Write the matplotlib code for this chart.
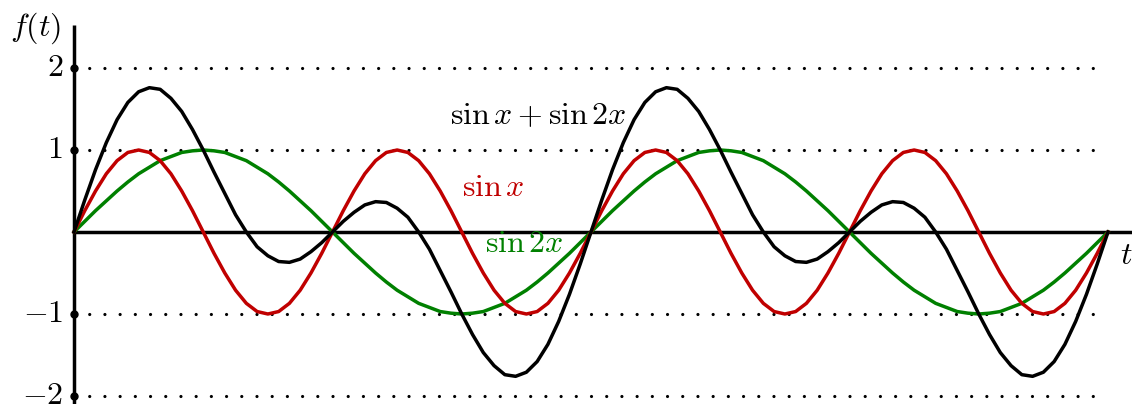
import numpy as np
import matplotlib
matplotlib.use("Agg")
import matplotlib.pyplot as plt

plt.rcParams['mathtext.fontset'] = 'cm'

# x samples: k*pi/24, k = 0..96  (0 .. 4*pi)
n_steps = 96
x_end = 4 * np.pi

red_period = [0, .26, .50, .71, .87, .97, 1.00, .97, .87, .71, .50, .26,
              0, -.26, -.50, -.71, -.87, -.97, -1.00, -.97, -.87, -.71, -.50, -.26]
green_period = [0, .13, .26, .38, .50, .61, .71, .79, .87, .92, .97, .99,
                1.00, .99, .97, .92, .87, .79, .71, .61, .50, .38, .26, .13,
                0, -.13, -.26, -.38, -.50, -.61, -.71, -.79, -.87, -.92, -.97, -.99,
                -1.00, -.99, -.97, -.92, -.87, -.79, -.71, -.61, -.50, -.38, -.26, -.13]
black_period = [0, .39, .76, 1.09, 1.37, 1.58, 1.71, 1.76, 1.74, 1.63, 1.47, 1.25,
                1.00, .73, .47, .21, 0, -.18, -.29, -.36, -.37, -.33, -.24, -.13,
                0, .13, .24, .33, .37, .36, .29, .18, 0, -.21, -.47, -.73,
                -1.00, -1.25, -1.47, -1.63, -1.74, -1.76, -1.71, -1.58, -1.37, -1.09, -.76, -.39]

red_vals = red_period * 4 + [0]
green_vals = green_period * 2 + [0]
black_vals = black_period * 2 + [0]

yticks = [2, 1, -1, -2]
ytick_labels = [r'$2$', r'$1$', r'$-1$', r'$-2$']

RED = '#c00000'
GREEN = '#008000'
FS = 23
LW = 2.5

fig = plt.figure(figsize=(11.32, 4.04), dpi=100)
ax = fig.add_axes([0, 0, 1, 1])
ax.set_axis_off()

ppu_x = 1034 / x_end
ppu_y = 82.0
ax.set_xlim(-74 / ppu_x, (1132 - 74) / ppu_x)
ax.set_ylim(-(404 - 232) / ppu_y, 232 / ppu_y)

xs = np.linspace(0, x_end, n_steps + 1)

# dotted grid lines
for yv, lab in zip(yticks, ytick_labels):
    ax.plot([0, (1100 - 74) / ppu_x], [yv, yv],
            color='black', lw=2.3, linestyle=(0, (0.01, 4.75)), dash_capstyle='round', zorder=1)
    ax.plot([0], [yv], 'o', color='black', ms=5, zorder=5, clip_on=False)
    ax.text(-11 / ppu_x, yv, lab, ha='right', va='center', fontsize=FS)

# axes lines
ax.plot([0, 1140 / ppu_x], [0, 0], color='black', lw=LW, zorder=2, solid_capstyle='butt')
ax.plot([0, 0], [-3, (232 - 25) / ppu_y], color='black', lw=LW, zorder=2, solid_capstyle='butt')

ax.plot(xs, green_vals, color=GREEN, lw=LW, zorder=3)
ax.plot(xs, red_vals, color=RED, lw=LW, zorder=3)
ax.plot(xs, black_vals, color='black', lw=LW, zorder=4)

ax.text((627 - 74) / ppu_x, (232 - 116) / ppu_y, r'$\sin x + \sin 2x$', ha='right', va='center',
        fontsize=FS, color='black')
ax.text((462 - 74) / ppu_x, (232 - 188) / ppu_y, r'$\sin x$', ha='left', va='center',
        fontsize=FS, color=RED)
ax.text((485 - 74) / ppu_x, (232 - 244) / ppu_y, r'$\sin 2x$', ha='left', va='center',
        fontsize=FS, color=GREEN)
ax.text((35 - 74) / ppu_x, (232 - 28) / ppu_y, r'$f(t)$', ha='center', va='center', fontsize=FS)
ax.text((1120 - 74) / ppu_x, (232 - 255) / ppu_y, r'$t$', ha='left', va='center', fontsize=FS)

fig.savefig('out.png', dpi=100)
